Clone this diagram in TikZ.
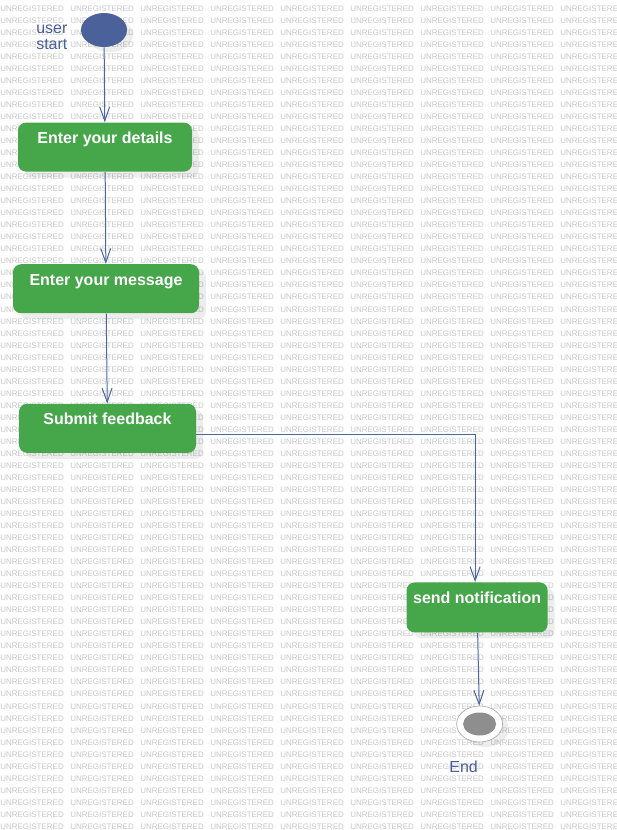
\documentclass[tikz,border=0pt]{standalone}
\usepackage{fontspec}
\setmainfont{Liberation Sans}
\usepackage{tikz}
\usetikzlibrary{positioning, shapes.geometric, shadows, arrows.meta}

\definecolor{actgreen}{HTML}{46A64A}
\definecolor{startblue}{HTML}{4A6299}
\definecolor{flowblue}{HTML}{4D65A2}
\definecolor{lblblue}{HTML}{4B5E9E}
\definecolor{endgray}{HTML}{8E8E8E}
\definecolor{wmgray}{HTML}{C6C6C6}

\begin{document}
\begin{tikzpicture}[x=1pt,y=-1pt,->,>={Straight Barb[length=14pt,width=10pt]},semithick]
		\tikzstyle{activity}=[rectangle, rounded corners=8pt, fill=actgreen, text=white, inner sep=0pt, text height=21pt, text depth=28pt, font=\fontsize{16}{18}\selectfont\bfseries, drop shadow={shadow xshift=7pt, shadow yshift=-6pt, fill=black, opacity=.07}]
		\tikzstyle{every edge}=[draw=flowblue, line width=1pt]
		\tikzstyle{lbl}=[inner sep=0pt, text=lblblue, font=\fontsize{16}{16}\selectfont]
		\tikzstyle{wmark}=[inner sep=0pt, anchor=west, text=wmgray, font=\fontsize{8}{8}\selectfont]
		
		\useasboundingbox (0,0) rectangle (617,830);
		\begin{scope}
		\clip (0,0) rectangle (617,830);
		\foreach \r in {0,...,68}
		\foreach \c in {0,...,8}
		\node[wmark] at (\c*70, 8.5+\r*12.03) {UNREGISTERED};
		\end{scope}
		
		\node[ellipse, fill=startblue, minimum width=46pt, minimum height=34pt, drop shadow={shadow xshift=6pt, shadow yshift=-5pt, fill=black, opacity=.07}] (1) at (104,30) {};
		\node[lbl, align=left] (0) [left=13pt of 1, yshift=-7pt] {user\\start};
		\node[activity, minimum width=174pt] (2) [below=75pt of 1, xshift=1pt] {Enter your details};
		\node[activity, minimum width=186pt] (3) [below=92pt of 2, xshift=1pt] {Enter your message};
		\node[activity, minimum width=177pt] (4) [below=90pt of 3, xshift=1.5pt] {Submit feedback};
		\node[activity, minimum width=141pt, text depth=29pt] (5) [below right=129pt and 210pt of 4] {send notification};
		\node[ellipse, draw=endgray!80, fill=white, minimum width=46pt, minimum height=36pt, drop shadow={shadow xshift=6pt, shadow yshift=-5pt, fill=black, opacity=.07}, path picture={\fill[endgray] (path picture bounding box.center) ellipse (16.5pt and 11.5pt);}] (6) [below=73pt of 5, xshift=2.5pt] {};
		\node[lbl] (7) [below=18pt of 6, xshift=-16pt] {End};
		
		\path (1) edge (2);
		\path (2) edge (3);
		\path (3) edge (4);
		\path ([yshift=-6pt]4.east) edge[to path={-| (\tikztotarget)}] ([xshift=-2pt]5.north);
		\path (5) edge (6);
		\end{tikzpicture}
\end{document}
